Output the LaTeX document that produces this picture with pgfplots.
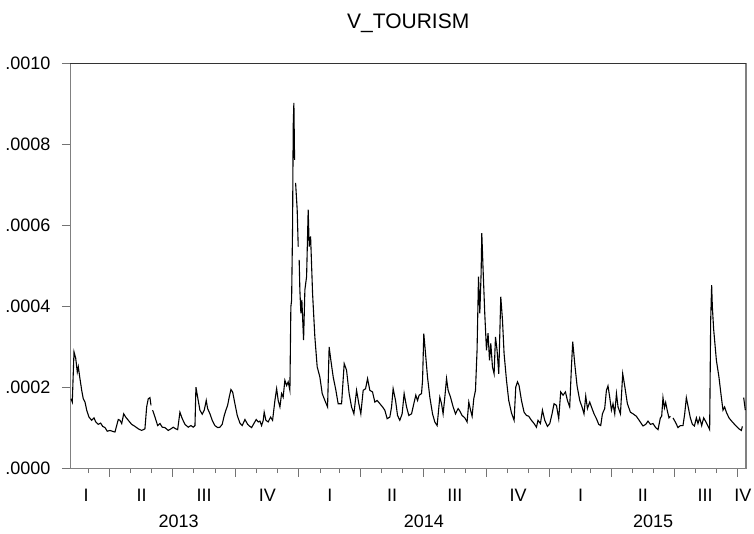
\documentclass[border=0pt]{standalone}
\usepackage{pgfplots}
\pgfplotsset{compat=1.18}
\usepackage{fontspec}
\setmainfont{Liberation Sans}
\newcommand\tf{\fontsize{18bp}{21bp}\selectfont}
\newcommand\ttlf{\fontsize{21bp}{24bp}\selectfont}
\begin{document}
\begin{tikzpicture}
\path[use as bounding box] (-70.5bp,-65.5bp) rectangle (683.5bp,468.5bp);
\begin{axis}[
  scale only axis, width=675.5bp, height=405bp,
  xmin=32.7, xmax=1015.5, ymin=0, ymax=0.001,
  clip mode=individual,
  axis line style={black!50, line width=1.2bp},
  every tick/.style={black!55, line width=1bp},
  tick align=outside, tick pos=left,
  major tick length=8.5bp, minor tick length=4.5bp,
  xtick={90,181,273,365,455,546,638,730,820,911,1003},
  xticklabels={,,,,,,,,,,},
  minor xtick={59,120,151,212,243,304,334,396,424,485,516,577,608,669,699,761,789,850,881,942,973},
  ytick={0,0.0002,0.0004,0.0006,0.0008,0.001},
  yticklabels={.0000,.0002,.0004,.0006,.0008,.0010},
  yticklabel style={font=\tf, xshift=-8bp},
  scaled y ticks=false,
]
\addplot[black, line width=1.1bp, mark=none, unbounded coords=jump] coordinates {
(33.4,1.72e-4)(35.3,1.64e-4)(37.8,2.88e-4)(40.3,2.72e-4)(42.6,2.38e-4)(44.1,2.51e-4)(46.1,2.26e-4)(49.0,1.93e-4)(51.3,1.72e-4)(53.8,1.64e-4)(56.3,1.44e-4)(59.6,1.27e-4)(63.5,1.19e-4)(66.9,1.25e-4)(69.4,1.15e-4)(73.1,1.09e-4)(76.6,1.12e-4)(79.5,1.04e-4)(82.9,1.01e-4)(86.2,0.92e-4)(90.2,0.94e-4)(93.5,0.92e-4)(97.4,0.90e-4)(99.9,1.06e-4)(102.2,1.21e-4)(104.7,1.19e-4)(107.2,1.11e-4)(110.1,1.35e-4)(113.0,1.27e-4)(116.8,1.19e-4)(121.7,1.09e-4)(126.5,1.04e-4)(131.3,0.98e-4)(136.2,0.94e-4)(141.0,0.98e-4)(143.5,1.52e-4)(145.8,1.72e-4)(148.3,1.75e-4)(149.8,1.56e-4)(151,nan)(152.2,1.44e-4)(155.6,1.27e-4)(159.5,1.06e-4)(162.9,1.11e-4)(166.2,1.02e-4)(170.1,1.01e-4)(174.9,0.94e-4)(178.9,0.98e-4)(182.2,1.02e-4)(185.7,0.98e-4)(188.6,0.96e-4)(191.9,1.39e-4)(195.3,1.23e-4)(199.2,1.09e-4)(204.0,1.02e-4)(207.9,1.06e-4)(211.3,1.02e-4)(213.8,1.06e-4)(215.2,2.01e-4)(217.7,1.76e-4)(221.0,1.44e-4)(224.4,1.34e-4)(227.3,1.44e-4)(230.2,1.68e-4)(232.2,1.48e-4)(235.6,1.35e-4)(238.9,1.19e-4)(242.8,1.06e-4)(246.8,1.01e-4)(250.1,1.02e-4)(253.4,1.09e-4)(256.4,1.31e-4)(258.8,1.44e-4)(261.3,1.56e-4)(263.6,1.76e-4)(266.1,1.95e-4)(268.6,1.89e-4)(271.9,1.60e-4)(275.3,1.31e-4)(279.2,1.12e-4)(282.5,1.06e-4)(286.5,1.21e-4)(290.4,1.09e-4)(293.7,1.04e-4)(296.2,1.01e-4)(299.5,1.11e-4)(302.9,1.21e-4)(305.8,1.15e-4)(308.3,1.17e-4)(310.7,1.06e-4)(313.1,1.19e-4)(314.5,1.39e-4)
(317.0,1.19e-4)(320.3,1.15e-4)(323.8,1.27e-4)(326.7,1.19e-4)(330.1,1.68e-4)(332.6,1.97e-4)(334.9,1.68e-4)(337.4,1.52e-4)(339.8,1.85e-4)(342.1,1.76e-4)(344.6,2.18e-4)(347.1,2.05e-4)(349.4,2.14e-4)(351.9,1.93e-4)(353.3,3.99e-4)(354.4,4.16e-4)(355.8,5.97e-4)(356.7,8.45e-4)(357.7,9.03e-4)(358.7,7.62e-4)(359.5,nan)(360.2,7.05e-4)(362.5,6.39e-4)(364.0,5.48e-4)(364.7,nan)(365.4,5.15e-4)(366.4,4.41e-4)(367.9,3.83e-4)(369.3,4.16e-4)(371.8,3.17e-4)(373.7,4.41e-4)(376.2,4.74e-4)(378.5,6.39e-4)(380.0,5.48e-4)(382.0,5.73e-4)(384.9,4.32e-4)(388.2,3.25e-4)(391.6,2.51e-4)(395.5,2.26e-4)(398.9,1.85e-4)(402.8,1.68e-4)(406.7,1.52e-4)(409.0,3.00e-4)(411.5,2.67e-4)(414.9,2.26e-4)(418.8,1.93e-4)(422.1,1.60e-4)(427.1,1.60e-4)(430.9,2.59e-4)(434.3,2.43e-4)(438.1,1.85e-4)(441.6,1.52e-4)(445.0,1.35e-4)(448.9,1.93e-4)(452.2,1.60e-4)(455.1,1.35e-4)(458.5,1.93e-4)(462.0,1.97e-4)(464.9,2.22e-4)(468.2,1.93e-4)(472.1,1.89e-4)(475.5,1.64e-4)(478.8,1.68e-4)(482.8,1.60e-4)(486.7,1.52e-4)(490.0,1.44e-4)(493.4,1.23e-4)(497.3,1.27e-4)(499.8,1.52e-4)(502.1,1.97e-4)(505.6,1.68e-4)(508.5,1.31e-4)(511.8,1.19e-4)(515.2,1.35e-4)(518.1,1.85e-4)(521.6,1.52e-4)(524.9,1.31e-4)(528.9,1.35e-4)(532.2,1.60e-4)(535.1,1.81e-4)(537.6,1.68e-4)(539.9,1.81e-4)(543.4,1.85e-4)(544.9,2.18e-4)(546.7,3.33e-4)(549.2,2.84e-4)(552.1,2.26e-4)(555.5,1.76e-4)(559.4,1.35e-4)(562.7,1.15e-4)(566.1,1.06e-4)(570.0,1.76e-4)(572.5,1.60e-4)(574.8,1.35e-4)(577.3,1.76e-4)(579.8,2.22e-4)(582.1,1.93e-4)(585.6,1.76e-4)(589.4,1.52e-4)(592.8,1.35e-4)(596.6,1.48e-4)
(599.1,1.42e-4)(602.4,1.31e-4)(606.4,1.25e-4)(609.7,1.15e-4)(612.2,1.64e-4)(614.6,1.45e-4)(617.0,1.29e-4)(619.4,1.72e-4)(621.9,1.93e-4)(624.2,2.92e-4)(626.3,4.74e-4)(628.2,3.83e-4)(630.1,4.82e-4)(631.1,5.81e-4)(633.0,4.90e-4)(635.4,3.83e-4)(637.9,2.92e-4)(640.2,3.34e-4)(642.3,2.67e-4)(644.2,3.09e-4)(646.6,2.51e-4)(649.0,2.34e-4)(651.0,3.25e-4)(653.3,2.92e-4)(655.8,2.34e-4)(658.7,4.24e-4)(661.2,3.66e-4)(663.5,2.84e-4)(667.0,2.18e-4)(670.3,1.68e-4)(674.3,1.37e-4)(678.1,1.19e-4)(680.5,2.01e-4)(683.0,2.14e-4)(685.3,2.05e-4)(688.8,1.68e-4)(692.6,1.39e-4)(696.1,1.31e-4)(699.4,1.29e-4)(703.3,1.19e-4)(707.2,1.11e-4)(710.6,1.02e-4)(712.9,1.19e-4)(716.4,1.11e-4)(719.3,1.44e-4)(722.7,1.19e-4)(726.6,1.04e-4)(730.0,1.11e-4)(733.3,1.35e-4)(736.2,1.60e-4)(739.7,1.56e-4)(743.0,1.23e-4)(745.9,1.89e-4)(749.3,1.81e-4)(752.8,1.89e-4)(755.7,1.68e-4)(759.0,1.52e-4)(761.5,2.51e-4)(763.4,3.13e-4)(766.3,2.59e-4)(769.7,2.04e-4)(773.6,1.68e-4)(776.9,1.52e-4)(779.8,1.35e-4)(782.3,1.79e-4)(784.8,1.48e-4)(788.1,1.64e-4)(791.5,1.48e-4)(794.4,1.35e-4)(797.9,1.23e-4)(801.2,1.09e-4)(804.1,1.06e-4)(806.6,1.35e-4)(809.9,1.48e-4)(812.4,1.93e-4)(814.7,2.04e-4)(817.2,1.76e-4)(819.7,1.44e-4)(822.0,1.60e-4)(824.5,1.35e-4)(827.0,1.85e-4)(829.3,1.52e-4)(832.8,1.35e-4)(836.1,2.34e-4)(839.0,2.04e-4)(842.9,1.60e-4)(847.3,1.39e-4)(851.1,1.35e-4)(856.0,1.29e-4)
(860.8,1.17e-4)(865.6,1.05e-4)(869.6,1.09e-4)(872.9,1.17e-4)(876.4,1.09e-4)(880.2,1.11e-4)(884.1,1.01e-4)(887.5,0.96e-4)(890.9,1.25e-4)(892.8,1.29e-4)(894.7,1.75e-4)(896.8,1.50e-4)(898.6,1.63e-4)(901.1,1.42e-4)(903.4,1.25e-4)(905.5,1.29e-4)(907.4,nan)(909.3,1.25e-4)(913.2,1.13e-4)(916.5,1.01e-4)(920.0,1.06e-4)(923.8,1.06e-4)(926.3,1.35e-4)(928.7,1.75e-4)(931.6,1.50e-4)(934.5,1.25e-4)(937.5,1.09e-4)(940.4,1.05e-4)(943.3,1.25e-4)(945.6,1.11e-4)(948.1,1.25e-4)(951.0,1.06e-4)(953.9,1.25e-4)(957.8,1.13e-4)(961.2,1.01e-4)(962.6,0.96e-4)(964.1,3.66e-4)(965.5,4.53e-4)(966.5,4.00e-4)(968.4,3.44e-4)(972.4,2.67e-4)(976.1,2.26e-4)(979.6,1.76e-4)(982.0,1.44e-4)(984.4,1.52e-4)(986.9,1.39e-4)(990.7,1.25e-4)(995.6,1.15e-4)(1000.4,1.06e-4)(1005.2,0.98e-4)(1008.7,0.94e-4)(1010.2,1.04e-4)(1011.2,nan)(1012.1,1.75e-4)(1014.5,1.44e-4)
};
\draw[black!80, line width=1.2bp] (rel axis cs:0,1) -- (rel axis cs:1,1);
\node[anchor=base, font=\ttlf, yshift=35.2bp] at (rel axis cs:0.5,1) {V\_TOURISM};
\node[anchor=base, font=\tf, yshift=-33bp] at (axis cs:55.3,0) {I};
\node[anchor=base, font=\tf, yshift=-33bp] at (axis cs:136.2,0) {II};
\node[anchor=base, font=\tf, yshift=-33bp] at (axis cs:227,0) {III};
\node[anchor=base, font=\tf, yshift=-33bp] at (axis cs:319,0) {IV};
\node[anchor=base, font=\tf, yshift=-33bp] at (axis cs:410,0) {I};
\node[anchor=base, font=\tf, yshift=-33bp] at (axis cs:500.5,0) {II};
\node[anchor=base, font=\tf, yshift=-33bp] at (axis cs:592,0) {III};
\node[anchor=base, font=\tf, yshift=-33bp] at (axis cs:684,0) {IV};
\node[anchor=base, font=\tf, yshift=-33bp] at (axis cs:775,0) {I};
\node[anchor=base, font=\tf, yshift=-33bp] at (axis cs:865.5,0) {II};
\node[anchor=base, font=\tf, yshift=-33bp] at (axis cs:956,0) {III};
\node[anchor=base, font=\tf, yshift=-33bp] at (axis cs:1011,0) {IV};
\node[anchor=base, font=\tf, yshift=-59bp] at (axis cs:190,0) {2013};
\node[anchor=base, font=\tf, yshift=-59bp] at (axis cs:546.7,0) {2014};
\node[anchor=base, font=\tf, yshift=-59bp] at (axis cs:880.5,0) {2015};
\end{axis}
\end{tikzpicture}
\end{document}
